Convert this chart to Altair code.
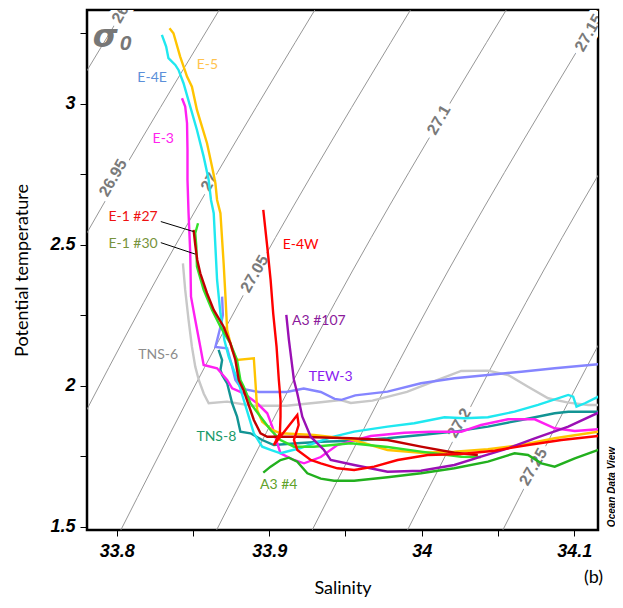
import altair as alt
import pandas as pd

# ---------------- data ----------------
# isopycnals (sigma0): salinity at three temperature levels
iso_sigma = [26.9, 26.95, 27.0, 27.05, 27.1, 27.15, 27.2, 27.25]
iso_temp_levels = [1.4883, 2.41, 3.332]
iso_sal_bottom = [33.6147, 33.6773, 33.7400, 33.8027, 33.8655, 33.9282, 33.9907, 34.0532]
iso_sal_mid = [33.7040, 33.7667, 33.8294, 33.8921, 33.9549, 34.0176, 34.0801, 34.1426]
iso_sal_top = [33.8045, 33.8672, 33.9299, 33.9926, 34.0554, 34.1181, 34.1806, 34.2430]

iso_label_text = ["26.9", "26.95", "27", "27.05", "27.1", "27.15", "27.2", "27.25"]
iso_label_sal = [33.8046, 33.7976, 33.8607, 33.8904, 34.0113, 34.1096, 34.0246, 34.0732]
iso_label_temp = [3.338, 2.7365, 2.7223, 2.3961, 2.9422, 3.2507, 1.8677, 1.7117]

# profiles
tns6_sal = [33.8434, 33.8449, 33.8471, 33.8493, 33.8515, 33.8538, 33.8571, 33.8603, 33.8724, 33.8887,
            33.9113, 33.9338, 33.9469, 33.9535, 33.9677, 33.9903, 34.0105, 34.0259, 34.0434, 34.0566,
            34.0697, 34.0829, 34.0961, 34.1092, 34.1158]
tns6_temp = [2.434, 2.3394, 2.233, 2.1383, 2.0674, 2.0202, 1.9716, 1.9376, 1.9433, 1.9291,
             1.9291, 1.9411, 1.9493, 1.9387, 1.9472, 1.9777, 2.0202, 2.0521, 2.0532, 2.0379,
             1.9965, 1.9553, 1.9397, 1.9316, 1.9316]

tew3_sal = [33.8691, 33.8696, 33.8680, 33.8647, 33.8724, 33.8757, 33.8778, 33.8819, 33.8932, 33.9113,
            33.9226, 33.9338, 33.9429, 33.9474, 33.9564, 33.9776, 33.9995, 34.0214, 34.0434, 34.0653,
            34.0872, 34.1158]
tew3_temp = [2.3156, 2.2507, 2.2082, 2.1372, 2.1326, 2.0674, 2.0202, 1.9897, 1.9777, 1.9777,
             1.9897, 1.9777, 1.9532, 1.9496, 1.9656, 1.9787, 2.0085, 2.0262, 2.0379, 2.0496,
             2.0617, 2.0759]

tns8_sal = [33.8668, 33.8691, 33.8680, 33.8691, 33.8724, 33.8757, 33.8789, 33.8811, 33.8877, 33.8954,
            33.9030, 33.9184, 33.9338, 33.9557, 33.9776, 33.9995, 34.0214, 34.0434, 34.0653, 34.0872,
            34.0961, 34.1158]
tns8_temp = [2.1266, 2.0911, 2.0557, 2.038, 2.0085, 1.9376, 1.8901, 1.8369, 1.8312, 1.8074,
             1.7897, 1.7957, 1.8014, 1.805, 1.8135, 1.8252, 1.8369, 1.8546, 1.8784, 1.9021,
             1.9078, 1.9078]

e3_sal = [33.8428, 33.8449, 33.8461, 33.8464, 33.8464, 33.8471, 33.8482, 33.8487, 33.8515, 33.8548,
          33.8570, 33.8658, 33.8724, 33.8757, 33.8833, 33.8921, 33.8987, 33.9020, 33.9053, 33.9074,
          33.9162, 33.9228, 33.9338, 33.9447, 33.9666, 33.9886, 34.0061, 34.0259, 34.0389, 34.0566,
          34.0741, 34.0872, 34.1004, 34.1158]
e3_temp = [3.0191, 2.9894, 2.9305, 2.8359, 2.7294, 2.6113, 2.4706, 2.3156, 2.233, 2.1383,
           2.0734, 2.0617, 2.0202, 1.9908, 1.973, 1.9376, 1.9021, 1.8546, 1.7957, 1.7603,
           1.7365, 1.7248, 1.7471, 1.7897, 1.8216, 1.8333, 1.8369, 1.8369, 1.8606, 1.8808,
           1.8808, 1.8489, 1.8394, 1.8454]

e4e_sal = [33.8296, 33.8324, 33.8339, 33.8384, 33.8405, 33.8438, 33.8482, 33.8526, 33.8570, 33.8603,
           33.8618, 33.8636, 33.8647, 33.8658, 33.8680, 33.8706, 33.8734, 33.8767, 33.8800, 33.8833,
           33.8866, 33.8899, 33.8954, 33.9009, 33.9074, 33.9206, 33.9403, 33.9557, 33.9776, 33.9951,
           34.0149, 34.0280, 34.0434, 34.0609, 34.0763, 34.0961, 34.0993, 34.1015, 34.1070, 34.1158]
e4e_temp = [3.2436, 3.2021, 3.161, 3.1372, 3.1195, 3.0723, 2.9894, 2.9067, 2.8121, 2.7294,
            2.6585, 2.6113, 2.4929, 2.3748, 2.2567, 2.162, 2.1028, 2.0557, 2.0085, 1.9493,
            1.8901, 1.8312, 1.7837, 1.772, 1.7603, 1.7791, 1.817, 1.8369, 1.8546, 1.8667,
            1.8879, 1.8844, 1.8879, 1.9078, 1.9316, 1.9671, 1.9611, 1.9255, 1.9376, 1.9611]

e5_sal = [33.8346, 33.8372, 33.8416, 33.8461, 33.8493, 33.8526, 33.8559, 33.8592, 33.8625, 33.8647,
          33.8658, 33.8680, 33.8701, 33.8713, 33.8724, 33.8757, 33.8789, 33.8899, 33.8910, 33.8921,
          33.8954, 33.9020, 33.9074, 33.9293, 33.9535, 33.9776, 33.9995, 34.0214, 34.0434, 34.0653,
          34.0872, 34.1158]
e5_temp = [3.2674, 3.2496, 3.1667, 3.0957, 3.0603, 2.9777, 2.9184, 2.8596, 2.7766, 2.7177,
           2.6585, 2.6113, 2.434, 2.3156, 2.1975, 2.1266, 2.0911, 2.0972, 2.0085, 1.9138,
           1.8723, 1.8429, 1.8312, 1.8252, 1.8099, 1.772, 1.7624, 1.766, 1.7745, 1.7897,
           1.8135, 1.8369]

e1_30_sal = [33.8533, 33.8515, 33.8522, 33.8526, 33.8570, 33.8625, 33.8680, 33.8745, 33.8789, 33.8811,
             33.8833, 33.8877, 33.8943, 33.9009, 33.9074, 33.9162, 33.9293, 33.9535, 33.9776, 33.9995,
             34.0259, 34.0389]
e1_30_temp = [2.5759, 2.5404, 2.4929, 2.422, 2.3394, 2.2685, 2.2092, 2.1504, 2.0911, 2.0202,
              1.9965, 1.9376, 1.8901, 1.8429, 1.8074, 1.7837, 1.7837, 1.7957, 1.7826, 1.766,
              1.7482, 1.7472]

e1_27_sal = [33.8504, 33.8515, 33.8528, 33.8548, 33.8592, 33.8636, 33.8701, 33.8745, 33.8778, 33.8800,
             33.8831, 33.8899, 33.8943, 33.8987, 33.9184, 33.9535, 33.9776, 33.9995, 34.0214, 34.0368]
e1_27_temp = [2.5522, 2.4989, 2.4457, 2.3986, 2.3277, 2.2685, 2.2092, 2.1504, 2.0911, 2.0202,
              1.9848, 1.8784, 1.8312, 1.8191, 1.8191, 1.8135, 1.8074, 1.7837, 1.7624, 1.7543]

a3_107_sal = [33.9112, 33.9129, 33.9151, 33.9162, 33.9184, 33.9217, 33.9272, 33.9359, 33.9403, 33.9557,
              33.9776, 33.9995, 34.0214, 34.0389, 34.0566, 34.0741, 34.0961, 34.1158]
a3_107_temp = [2.2507, 2.162, 2.0674, 2.0202, 1.973, 1.8901, 1.8191, 1.772, 1.7365, 1.7188,
               1.695, 1.6986, 1.7188, 1.7482, 1.778, 1.8135, 1.8546, 1.9043]

e4w_sal = [33.8961, 33.8987, 33.9009, 33.9026, 33.9048, 33.9063, 33.9074, 33.9074, 33.9070, 33.9030,
           33.9107, 33.9184, 33.9193, 33.9162, 33.9184, 33.9272, 33.9338, 33.9447, 33.9557, 33.9688,
           33.9842, 34.0039, 34.0258, 34.0478, 34.0697, 34.0916, 34.1158]
e4w_temp = [2.6232, 2.4929, 2.3748, 2.2567, 2.1383, 2.0202, 1.9493, 1.8901, 1.8312, 1.7897,
            1.8429, 1.8961, 1.8606, 1.8074, 1.772, 1.7365, 1.7248, 1.7071, 1.7011, 1.7128,
            1.7365, 1.7543, 1.7578, 1.7695, 1.7897, 1.8074, 1.8216]

a3_4_sal = [33.8961, 33.9009, 33.9074, 33.9129, 33.9184, 33.9250, 33.9338, 33.9425, 33.9557, 33.9776,
            33.9995, 34.0214, 34.0434, 34.0609, 34.0697, 34.0785, 34.0872, 34.1004, 34.1158]
a3_4_temp = [1.6915, 1.7128, 1.7365, 1.7447, 1.7305, 1.6894, 1.6702, 1.6631, 1.6631, 1.6752,
             1.6894, 1.7071, 1.7305, 1.7603, 1.7543, 1.7248, 1.7128, 1.7426, 1.772]

# profile labels
label_text = ["E-5", "E-4E", "E-3", "E-1 #27", "E-1 #30", "E-4W", "A3 #107", "TEW-3", "TNS-6", "TNS-8", "A3 #4"]
label_sal = [33.8595, 33.8232, 33.8305, 33.8107, 33.8107, 33.9206, 33.9325, 33.9403, 33.8272, 33.8653, 33.9062]
label_temp = [3.1372, 3.0911, 2.8748, 2.5982, 2.5025, 2.4989, 2.2294, 2.0308, 2.1088, 1.8181, 1.6478]

# leader lines for the E-1 labels
leader_sal = [33.8289, 33.8289]
leader_temp = [2.5819, 2.5071]
leader_sal2 = [33.8504, 33.8515]
leader_temp2 = [2.5464, 2.4665]

# ---------------- styling ----------------
S_DOMAIN = [33.7805, 34.1156]
T_DOMAIN = [1.4883, 3.3320]
W, H = 511, 520

xs = alt.Scale(domain=S_DOMAIN, nice=False, zero=False)
ys = alt.Scale(domain=T_DOMAIN, nice=False, zero=False)

x_ticks = [33.8, 33.85, 33.9, 33.95, 34.0, 34.05, 34.1]
y_ticks = [1.5, 1.75, 2.0, 2.25, 2.5, 2.75, 3.0, 3.25]

tick_font = "Liberation Sans"
text_font = "Lato"

x_axis = alt.Axis(
    values=x_ticks, title="Salinity", grid=False, domain=False,
    labelExpr="abs(datum.value*10 - round(datum.value*10)) < 0.01 ? '' + round(datum.value*10)/10 : ''",
    labelFont=tick_font, labelFontSize=18, labelFontWeight="bold", labelFontStyle="italic",
    labelColor="black", tickColor="black", tickSize=6, tickWidth=1, labelPadding=6,
    titleFont=text_font, titleFontSize=18, titleFontWeight="normal", titleColor="black",
    titleX=W / 2, titleY=58, titleBaseline="middle",
)
y_axis = alt.Axis(
    values=y_ticks, title="Potential temperature", grid=False, domain=False,
    labelExpr="abs(datum.value*2 - round(datum.value*2)) < 0.01 ? '' + round(datum.value*2)/2 : ''",
    labelFont=tick_font, labelFontSize=18, labelFontWeight="bold", labelFontStyle="italic",
    labelColor="black", tickColor="black", tickSize=7, tickWidth=1, labelPadding=5,
    titleFont=text_font, titleFontSize=18, titleFontWeight="normal", titleColor="black",
    titleX=-65, titleY=H / 2, titleAngle=270, titleAlign="center", titleBaseline="middle",
)

# ---------------- isopycnals ----------------
iso_rows = []
for k, sg in enumerate(iso_sigma):
    for j, (s, t) in enumerate(zip([iso_sal_bottom[k], iso_sal_mid[k], iso_sal_top[k]], iso_temp_levels)):
        iso_rows.append({"sigma": sg, "S": s, "T": t, "i": j})
iso_df = pd.DataFrame(iso_rows)

iso_lines = alt.Chart(iso_df).mark_line(
    color="#8a8a8a", strokeWidth=0.9, clip=True, interpolate="natural"
).encode(
    x=alt.X("S:Q", scale=xs, axis=x_axis),
    y=alt.Y("T:Q", scale=ys, axis=y_axis),
    detail="sigma:N",
    order="i:Q",
)

iso_lab_df = pd.DataFrame({"S": iso_label_sal, "T": iso_label_temp, "txt": iso_label_text})
iso_halo = alt.Chart(iso_lab_df).mark_text(
    font=tick_font, fontSize=16, fontWeight="bold", angle=300, clip=True,
    color="white", stroke="white", strokeWidth=9,
).encode(x=alt.X("S:Q", scale=xs), y=alt.Y("T:Q", scale=ys), text="txt:N")
iso_text = alt.Chart(iso_lab_df).mark_text(
    font=tick_font, fontSize=16, fontWeight="bold", angle=300, clip=True, color="#7a7a7a",
).encode(x=alt.X("S:Q", scale=xs), y=alt.Y("T:Q", scale=ys), text="txt:N")

# ---------------- profiles ----------------
profiles = [
    ("TNS-6", tns6_sal, tns6_temp, "#c8c8c8"),
    ("TEW-3", tew3_sal, tew3_temp, "#8585ff"),
    ("TNS-8", tns8_sal, tns8_temp, "#129494"),
    ("E-3", e3_sal, e3_temp, "#ff20f2"),
    ("E-4E", e4e_sal, e4e_temp, "#1fe8f0"),
    ("E-5", e5_sal, e5_temp, "#ffc400"),
    ("E-1 #30", e1_30_sal, e1_30_temp, "#33e02a"),
    ("E-1 #27", e1_27_sal, e1_27_temp, "#c00000"),
    ("A3 #107", a3_107_sal, a3_107_temp, "#9a10b4"),
    ("E-4W", e4w_sal, e4w_temp, "#ff0000"),
    ("A3 #4", a3_4_sal, a3_4_temp, "#22b01e"),
]
profile_layers = []
for name, s, t, col in profiles:
    df = pd.DataFrame({"S": s, "T": t, "i": list(range(len(s)))})
    profile_layers.append(
        alt.Chart(df).mark_line(color=col, strokeWidth=2.4, clip=True).encode(
            x=alt.X("S:Q", scale=xs), y=alt.Y("T:Q", scale=ys), order="i:Q"
        )
    )

leader_df = pd.DataFrame({"S": leader_sal, "T": leader_temp, "S2": leader_sal2, "T2": leader_temp2})
leaders = alt.Chart(leader_df).mark_rule(color="black", strokeWidth=1).encode(
    x=alt.X("S:Q", scale=xs), y=alt.Y("T:Q", scale=ys), x2="S2:Q", y2="T2:Q"
)

label_colors = {
    "E-5": "#ffc34d", "E-4E": "#5b8fd9", "E-3": "#ff22ee", "E-1 #27": "#ee1111",
    "E-1 #30": "#77933c", "E-4W": "#ff0000", "A3 #107": "#8b1a9b", "TEW-3": "#8a1cf0",
    "TNS-6": "#8c8c8c", "TNS-8": "#1a9a6a", "A3 #4": "#5fa22a",
}
label_layers = []
for txt, s, t in zip(label_text, label_sal, label_temp):
    df = pd.DataFrame({"S": [s], "T": [t], "txt": [txt]})
    label_layers.append(
        alt.Chart(df).mark_text(font=text_font, fontSize=14, color=label_colors[txt]).encode(
            x=alt.X("S:Q", scale=xs), y=alt.Y("T:Q", scale=ys), text="txt:N"
        )
    )

# decorations: sigma-0 symbol, ODV mark, panel letter
sig_df = pd.DataFrame({"S": [33.7925], "T": [3.2380], "txt": ["σ"]})
sig = alt.Chart(sig_df).mark_text(
    font="DejaVu Sans", fontSize=32, fontWeight="bold", fontStyle="italic", color="#777777"
).encode(x=alt.X("S:Q", scale=xs), y=alt.Y("T:Q", scale=ys), text="txt:N")
sub_df = pd.DataFrame({"S": [33.8058], "T": [3.2130], "txt": ["0"]})
sub = alt.Chart(sub_df).mark_text(
    font=tick_font, fontSize=21, fontWeight="bold", fontStyle="italic", color="#777777"
).encode(x=alt.X("S:Q", scale=xs), y=alt.Y("T:Q", scale=ys), text="txt:N")

odv_df = pd.DataFrame({"S": [34.1245], "T": [1.6407], "txt": ["Ocean Data View"]})
odv = alt.Chart(odv_df).mark_text(
    font=tick_font, fontSize=10, fontWeight="bold", fontStyle="italic", color="black", angle=270
).encode(x=alt.X("S:Q", scale=xs), y=alt.Y("T:Q", scale=ys), text="txt:N")

b_df = pd.DataFrame({"S": [34.1127], "T": [1.3181], "txt": ["(b)"]})
blab = alt.Chart(b_df).mark_text(font=text_font, fontSize=18, color="black").encode(
    x=alt.X("S:Q", scale=xs), y=alt.Y("T:Q", scale=ys), text="txt:N"
)

chart = alt.layer(
    iso_lines, iso_halo, iso_text, *profile_layers, leaders, *label_layers, sig, sub, odv, blab
).properties(
    width=W, height=H,
    autosize=alt.AutoSizeParams(type="none"),
    padding={"left": 79, "top": 2, "right": 17, "bottom": 70},
    background="white",
).configure_view(
    stroke="black", strokeWidth=2.5
)

chart.save("out.html", embed_options={"renderer": "svg", "actions": False})
